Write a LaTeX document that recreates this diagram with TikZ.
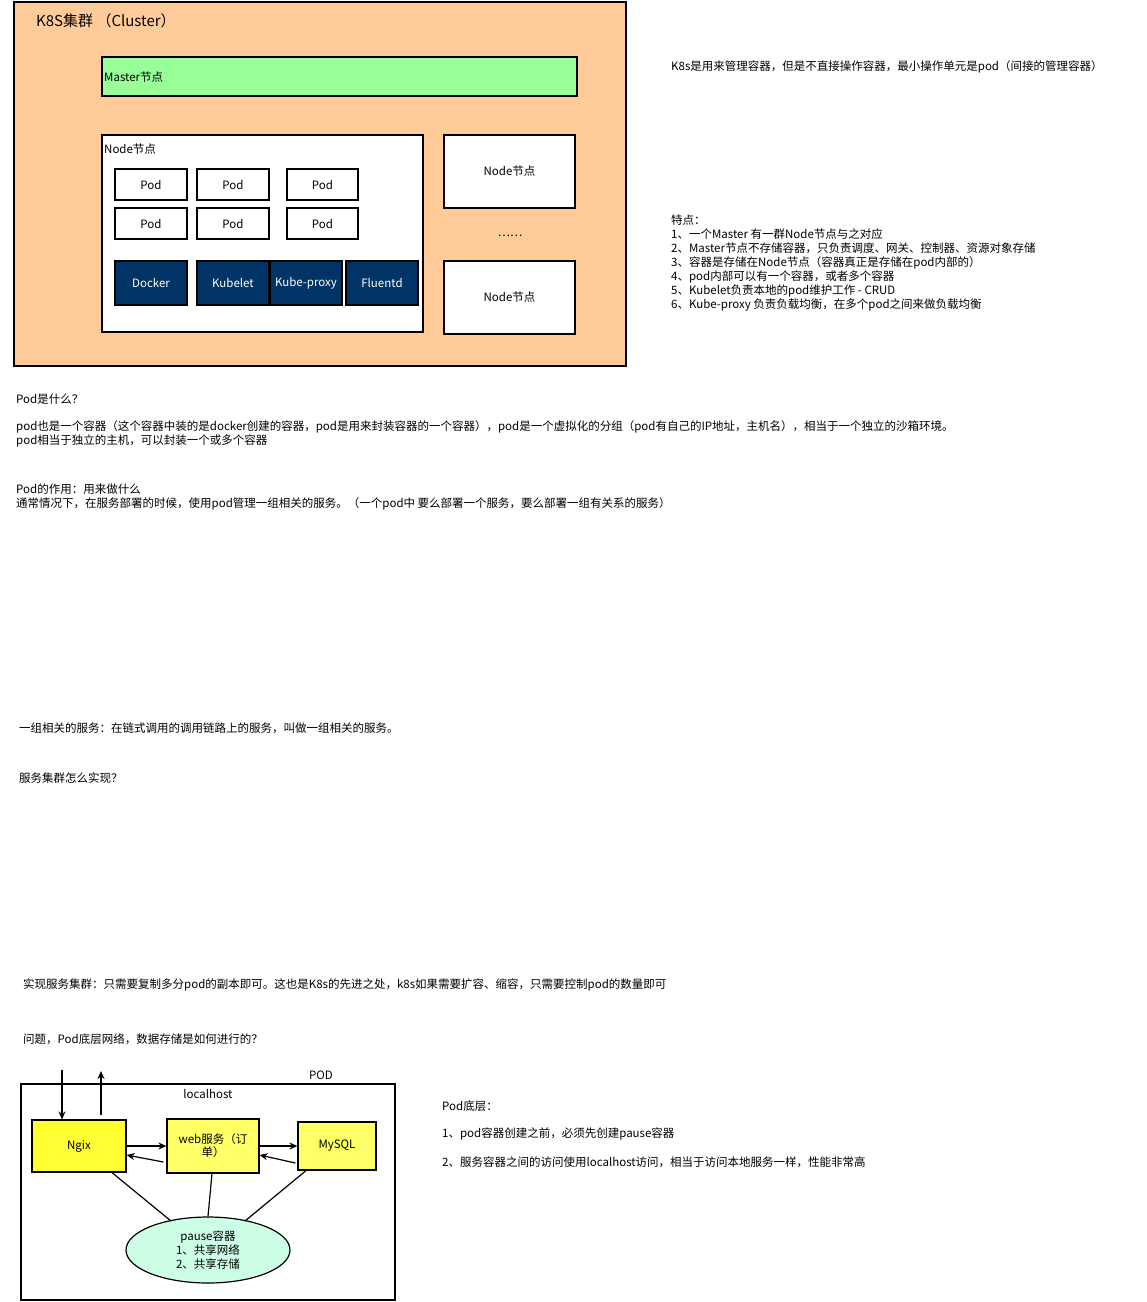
\documentclass[tikz,border=0pt]{standalone}
\usepackage{fontspec}
\setmainfont{Noto Sans CJK SC}
\usetikzlibrary{arrows.meta,shapes.geometric}
\definecolor{clus}{HTML}{FFCC99}
\definecolor{mast}{HTML}{99FF99}
\definecolor{dark}{HTML}{003366}
\definecolor{yel}{HTML}{FFFF33}
\definecolor{yel2}{HTML}{FFFF66}
\definecolor{mint}{HTML}{CCFFE6}
\begin{document}
\begin{tikzpicture}[x=1pt,y=-1pt,
  txt/.style={anchor=west,inner sep=0pt,font=\fontsize{11.5}{14}\selectfont,align=left},
  blk/.style={draw=black,line width=1.2pt,font=\fontsize{11.5}{13}\selectfont,inner sep=0pt},
  podbox/.style={blk,fill=white},
  darkbox/.style={blk,fill=dark,text=white},
  arr/.style={-{Stealth[length=8pt,width=7pt]},line width=1.2pt},
  ln/.style={line width=1.2pt}]
\useasboundingbox (0,0) rectangle (1147,1302);
\fill[white] (0,0) rectangle (1147,1302);
\draw[blk,fill=clus] (14,2) rectangle (626,366);
\node[txt,font=\fontsize{15}{17}\selectfont] (title) at (36,21) {K8S集群 （Cluster）};
\draw[blk,fill=mast] (102,57) rectangle (577,96);
\node[txt] (mastert) at (104,77) {Master节点};
\draw[blk,fill=white] (102,135) rectangle (423,332);
\node[txt] (nodet) at (104,149) {Node节点};
\foreach \n/\xa/\xb/\ya/\yb in {p1/115/187/169/200,p2/197/269/169/200,p3/287/358/169/200,p4/115/187/208/239,p5/197/269/208/239,p6/287/358/208/239}{
  \node[podbox,minimum width=\xb-\xa,minimum height=\yb-\ya] (\n) at ({(\xa+\xb)/2},{(\ya+\yb)/2}) {Pod};}
\foreach \n/\t/\xa/\xb in {d1/Docker/115/187,d2/Kubelet/197/269,d3/Kube-proxy/270/342,d4/Fluentd/346/418}{
  \node[darkbox,minimum width=\xb-\xa,minimum height=44] (\n) at ({(\xa+\xb)/2},283) {\t};}
\node[podbox,minimum width=131,minimum height=73] (n2) at (509.5,171.5) {Node节点};
\node[podbox,minimum width=131,minimum height=73] (n3) at (509.5,297.5) {Node节点};
\node[txt,anchor=center] (dots) at (510,236) {……};
\node[txt] (k8s) at (671,67) {K8s是用来管理容器，但是不直接操作容器，最小操作单元是pod（间接的管理容器）};
\node[txt,anchor=north west] (feat) at (671,215) {特点：\\1、一个Master 有一群Node节点与之对应\\2、Master节点不存储容器，只负责调度、网关、控制器、资源对象存储\\3、容器是存储在Node节点（容器真正是存储在pod内部的）\\4、pod内部可以有一个容器，或者多个容器\\5、Kubelet负责本地的pod维护工作 - CRUD\\6、Kube-proxy 负责负载均衡，在多个pod之间来做负载均衡};
\node[txt] (q1) at (16,399) {Pod是什么？};
\node[txt,anchor=north west] (a1) at (16,420) {pod也是一个容器（这个容器中装的是docker创建的容器，pod是用来封装容器的一个容器），pod是一个虚拟化的分组（pod有自己的IP地址，主机名），相当于一个独立的沙箱环境。\\pod相当于独立的主机，可以封装一个或多个容器};
\node[txt,anchor=north west] (a2) at (16,484) {Pod的作用：用来做什么\\通常情况下，在服务部署的时候，使用pod管理一组相关的服务。（一个pod中 要么部署一个服务，要么部署一组有关系的服务）};
\node[txt] (t3) at (19,728) {一组相关的服务：在链式调用的调用链路上的服务，叫做一组相关的服务。};
\node[txt] (t4) at (19,778) {服务集群怎么实现？};
\node[txt] (t5) at (23,985) {实现服务集群：只需要复制多分pod的副本即可。这也是K8s的先进之处，k8s如果需要扩容、缩容，只需要控制pod的数量即可};
\node[txt] (t6) at (23,1039) {问题，Pod底层网络，数据存储是如何进行的？};
% bottom pod
\draw[ln] (21,1084) rectangle (395,1300);
\node[txt,anchor=center] (podl) at (321,1075) {POD};
\node[txt,anchor=center] (lh) at (208,1094) {localhost};
\node[blk,fill=yel,minimum width=94,minimum height=52] (ngix) at (79,1146) {Ngix};
\node[blk,fill=yel2,minimum width=92,minimum height=54,align=center,text width=84] (web) at (213,1146) {web服务（订\\单）};
\node[blk,fill=yel2,minimum width=78,minimum height=48] (mysql) at (337,1146) {MySQL};
\node[ellipse,draw,line width=1.2pt,fill=mint,minimum width=164,minimum height=66,inner sep=0pt,align=center,font=\fontsize{11.5}{14}\selectfont] (pause) at (208,1250) {pause容器\\1、共享网络\\ 2、共享存储};
\coordinate (in0) at (62,1070);
\coordinate (out0) at (101,1071);
\coordinate (pl) at (171,1221);
\coordinate (pr) at (245,1221);
\draw[arr] (in0) -- (ngix.north -| in0);
\draw[arr] ([yshift=4pt]ngix.north -| out0) -- (out0);
\draw[arr] (ngix.east) -- (web.west);
\draw[arr] ([xshift=-3pt,yshift=-16pt]web.west) -- ([yshift=-9pt]ngix.east);
\draw[arr] (web.east) -- (mysql.west);
\draw[arr] ([xshift=-2pt,yshift=-17pt]mysql.west) -- ([yshift=-9pt]web.east);
\draw[ln] ([xshift=33pt]ngix.south) -- (pl);
\draw[ln] ([xshift=-1pt]web.south) -- (pause.north);
\draw[ln] ([xshift=-31pt]mysql.south) -- (pr);
\node[txt] (b1) at (442,1106) {Pod底层：};
\node[txt] (b2) at (442,1134) {1、pod容器创建之前，必须先创建pause容器};
\node[txt] (b3) at (442,1162) {2、服务容器之间的访问使用localhost访问，相当于访问本地服务一样，性能非常高};
\end{tikzpicture}
\end{document}
